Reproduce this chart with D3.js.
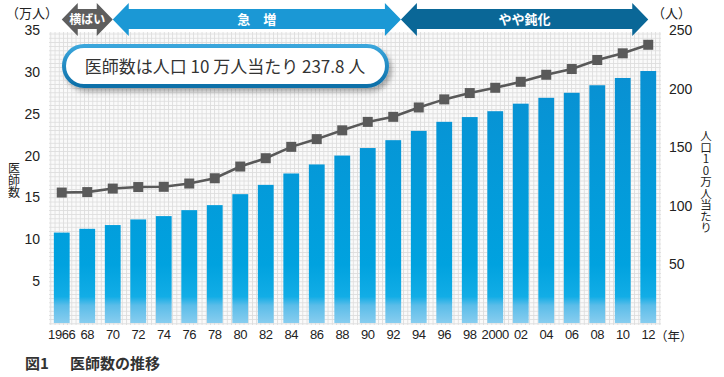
<!DOCTYPE html>
<html lang="ja">
<head>
<meta charset="utf-8" />
<style>
  body { margin: 0; background: #fff; }
  text { font-family: "Liberation Sans", Arial, "Noto Sans CJK JP", sans-serif; fill: #222; }
  .jp { font-family: "Noto Sans CJK JP", sans-serif; }
  .vert { writing-mode: vertical-rl; text-orientation: upright; }
</style>
</head>
<body>
<script src="https://d3js.org/d3.v7.min.js"></script>
<script>
// data
var years = [1966, 1968, 1970, 1972, 1974, 1976, 1978, 1980, 1982, 1984, 1986, 1988,
             1990, 1992, 1994, 1996, 1998, 2000, 2002, 2004, 2006, 2008, 2010, 2012];
var yearLabels = ["1966", "68", "70", "72", "74", "76", "78", "80", "82", "84", "86", "88",
                  "90", "92", "94", "96", "98", "2000", "02", "04", "06", "08", "10", "12"];
// 医師数（万人）
var doctors = [10.8, 11.25, 11.7, 12.37, 12.77, 13.48, 14.08, 15.39, 16.5, 17.86, 18.94, 20.0,
               20.9, 21.84, 22.95, 24.03, 24.6, 25.3, 26.2, 26.9, 27.5, 28.4, 29.27, 30.1];
// 人口10万人当たり（人）
var perPop = [111.3, 111.7, 114.7, 116.0, 116.2, 119.0, 123.5, 133.5, 140.6, 150.3, 156.9, 164.4,
              171.6, 175.9, 183.9, 190.8, 196.2, 200.7, 205.8, 211.8, 216.7, 224.4, 230.1, 237.4];
var leftTicks = [5, 10, 15, 20, 25, 30, 35];
var rightTicks = [50, 100, 150, 200, 250];
var phases = [
  {label: "横ばい", from: 1966, to: 1970, color: "#5e5e5e"},
  {label: "急　増", from: 1970, to: 1992.6, color: "#1b98d5"},
  {label: "やや鈍化", from: 1992.6, to: 2012, color: "#0a6797"}
];

var W = 724, H = 377;
var plot = {left: 49, right: 661, top: 30, bottom: 323};

var svg = d3.select("body").append("svg")
  .attr("width", W)
  .attr("height", H);

var defs = svg.append("defs");

var pat = defs.append("pattern")
  .attr("id", "grid")
  .attr("patternUnits", "userSpaceOnUse")
  .attr("width", 4.2).attr("height", 4.2);
pat.append("rect").attr("width", 4.2).attr("height", 4.2).attr("fill", "#fafafa");
pat.append("path").attr("d", "M0,0.4H4.2M0.4,0V4.2")
  .attr("stroke", "#dddddd").attr("stroke-width", 0.9);

var barGrad = defs.append("linearGradient")
  .attr("id", "barGrad")
  .attr("gradientUnits", "userSpaceOnUse")
  .attr("x1", 0).attr("y1", plot.top).attr("x2", 0).attr("y2", plot.bottom);
barGrad.append("stop").attr("offset", "0%").attr("stop-color", "#0b8ccf");
barGrad.append("stop").attr("offset", "80%").attr("stop-color", "#00a2df");
barGrad.append("stop").attr("offset", "91%").attr("stop-color", "#12ade6");
barGrad.append("stop").attr("offset", "94%").attr("stop-color", "#5bbde9");
barGrad.append("stop").attr("offset", "100%").attr("stop-color", "#88cdef");

var boxGrad = defs.append("linearGradient")
  .attr("id", "boxGrad")
  .attr("x1", 0).attr("y1", 0).attr("x2", 0).attr("y2", 1);
boxGrad.append("stop").attr("offset", "0%").attr("stop-color", "#3aa6dc");
boxGrad.append("stop").attr("offset", "100%").attr("stop-color", "#0d6fa8");

var shadow = defs.append("filter").attr("id", "shadow")
  .attr("x", "-10%").attr("y", "-30%").attr("width", "130%").attr("height", "180%");
shadow.append("feDropShadow")
  .attr("dx", 3).attr("dy", 4).attr("stdDeviation", 2.5)
  .attr("flood-color", "#000").attr("flood-opacity", 0.3);

// scales
var x = d3.scaleBand()
  .domain(years)
  .range([plot.left, plot.right])
  .paddingInner(0.38)
  .paddingOuter(0.19);

var yL = d3.scaleLinear().domain([0, 35]).range([plot.bottom, plot.top]);
var yR = d3.scaleLinear().domain([0, 250]).range([plot.bottom, plot.top]);

// background grid
svg.append("rect")
  .attr("x", plot.left).attr("y", plot.top + 2)
  .attr("width", plot.right - plot.left)
  .attr("height", plot.bottom - plot.top)
  .attr("fill", "url(#grid)");

// bars
svg.append("g").selectAll("rect")
  .data(doctors)
  .join("rect")
    .attr("x", function(d, i) { return x(years[i]); })
    .attr("y", function(d) { return yL(d); })
    .attr("width", x.bandwidth())
    .attr("height", function(d) { return yL(0) - yL(d); })
    .attr("fill", "url(#barGrad)");

// line
var cx = function(i) { return x(years[i]) + x.bandwidth() / 2; };
var line = d3.line()
  .x(function(d, i) { return cx(i); })
  .y(function(d) { return yR(d); });

svg.append("path")
  .datum(perPop)
  .attr("d", line)
  .attr("fill", "none")
  .attr("stroke", "#595959")
  .attr("stroke-width", 2.6);

svg.append("g").selectAll("rect")
  .data(perPop)
  .join("rect")
    .attr("x", function(d, i) { return cx(i) - 5; })
    .attr("y", function(d) { return yR(d) - 5; })
    .attr("width", 10).attr("height", 10)
    .attr("fill", "#5a5a5a");

// left axis
var axL = d3.axisLeft(yL).tickValues(leftTicks).tickSize(0).tickPadding(0);
svg.append("g")
  .attr("transform", "translate(40,0)")
  .call(axL)
  .call(function(g) { g.select(".domain").remove(); })
  .selectAll("text")
    .attr("font-size", 14)
    .attr("fill", "#222")
    .attr("font-family", "Liberation Sans, Arial, sans-serif");

// right axis
var axR = d3.axisRight(yR).tickValues(rightTicks).tickSize(0).tickPadding(0);
svg.append("g")
  .attr("transform", "translate(669,0)")
  .call(axR)
  .call(function(g) { g.select(".domain").remove(); })
  .selectAll("text")
    .attr("font-size", 14)
    .attr("fill", "#222")
    .attr("font-family", "Liberation Sans, Arial, sans-serif");

// bottom axis
var axB = d3.axisBottom(x).tickSize(0).tickPadding(0)
  .tickFormat(function(d, i) { return yearLabels[i]; });
svg.append("g")
  .attr("transform", "translate(0,330)")
  .call(axB)
  .call(function(g) { g.select(".domain").remove(); })
  .selectAll("text")
    .attr("font-size", 13)
    .attr("letter-spacing", -0.4)
    .attr("fill", "#222")
    .attr("font-family", "Liberation Sans, Arial, sans-serif");

// unit labels
svg.append("text").attr("class", "jp")
  .attr("x", 6).attr("y", 18).attr("font-size", 13).text("（万人）");
svg.append("text").attr("class", "jp")
  .attr("x", 652).attr("y", 18).attr("font-size", 13).text("（人）");
svg.append("text").attr("class", "jp")
  .attr("x", 655).attr("y", 341).attr("font-size", 12.5).text("（年）");

// vertical axis titles
svg.append("text")
  .attr("class", "jp vert")
  .attr("x", 14).attr("y", 162)
  .attr("font-size", 12)
  .text("医師数");

svg.append("text")
  .attr("class", "jp vert")
  .attr("x", 706).attr("y", 130)
  .attr("font-size", 11.5)
  .text("人口10万人当たり");

// phase arrows
var xYear = d3.scaleLinear()
  .domain([1966, 2012])
  .range([x(1966) + x.bandwidth() / 2, x(2012) + x.bandwidth() / 2]);

function arrowPath(x1, x2) {
  var hl = 16, t = 3, b = 36, st = 9, sb = 29;
  var m = (t + b) / 2;
  return "M" + x1 + "," + m +
    "L" + (x1 + hl) + "," + t +
    "L" + (x1 + hl) + "," + st +
    "L" + (x2 - hl) + "," + st +
    "L" + (x2 - hl) + "," + t +
    "L" + x2 + "," + m +
    "L" + (x2 - hl) + "," + b +
    "L" + (x2 - hl) + "," + sb +
    "L" + (x1 + hl) + "," + sb +
    "L" + (x1 + hl) + "," + b + "Z";
}

var ph = svg.append("g").selectAll("g")
  .data(phases)
  .join("g");
ph.append("path")
  .attr("d", function(d) { return arrowPath(xYear(d.from), xYear(d.to)); })
  .attr("fill", function(d) { return d.color; });
ph.append("text")
  .attr("class", "jp")
  .attr("x", function(d) { return (xYear(d.from) + xYear(d.to)) / 2; })
  .attr("y", 24)
  .attr("text-anchor", "middle")
  .attr("font-size", function(d, i) { return i === 0 ? 12 : 13; })
  .attr("font-weight", "bold")
  .style("fill", "#fff")
  .text(function(d) { return d.label; });

// callout box
svg.append("rect")
  .attr("x", 64).attr("y", 46)
  .attr("width", 323).attr("height", 40)
  .attr("rx", 20)
  .attr("fill", "#fff")
  .attr("stroke", "url(#boxGrad)")
  .attr("stroke-width", 4)
  .attr("filter", "url(#shadow)");
svg.append("text")
  .attr("class", "jp")
  .attr("x", 225).attr("y", 73)
  .attr("text-anchor", "middle")
  .attr("font-size", 17)
  .style("fill", "#333")
  .text("医師数は人口 10 万人当たり 237.8 人");

// caption
svg.append("text").attr("class", "jp")
  .attr("x", 25).attr("y", 369)
  .attr("font-size", 15).attr("font-weight", "bold")
  .style("fill", "#333")
  .text("図1");
svg.append("text").attr("class", "jp")
  .attr("x", 70).attr("y", 369)
  .attr("font-size", 15).attr("font-weight", "bold")
  .style("fill", "#333")
  .text("医師数の推移");
</script>
</body>
</html>
